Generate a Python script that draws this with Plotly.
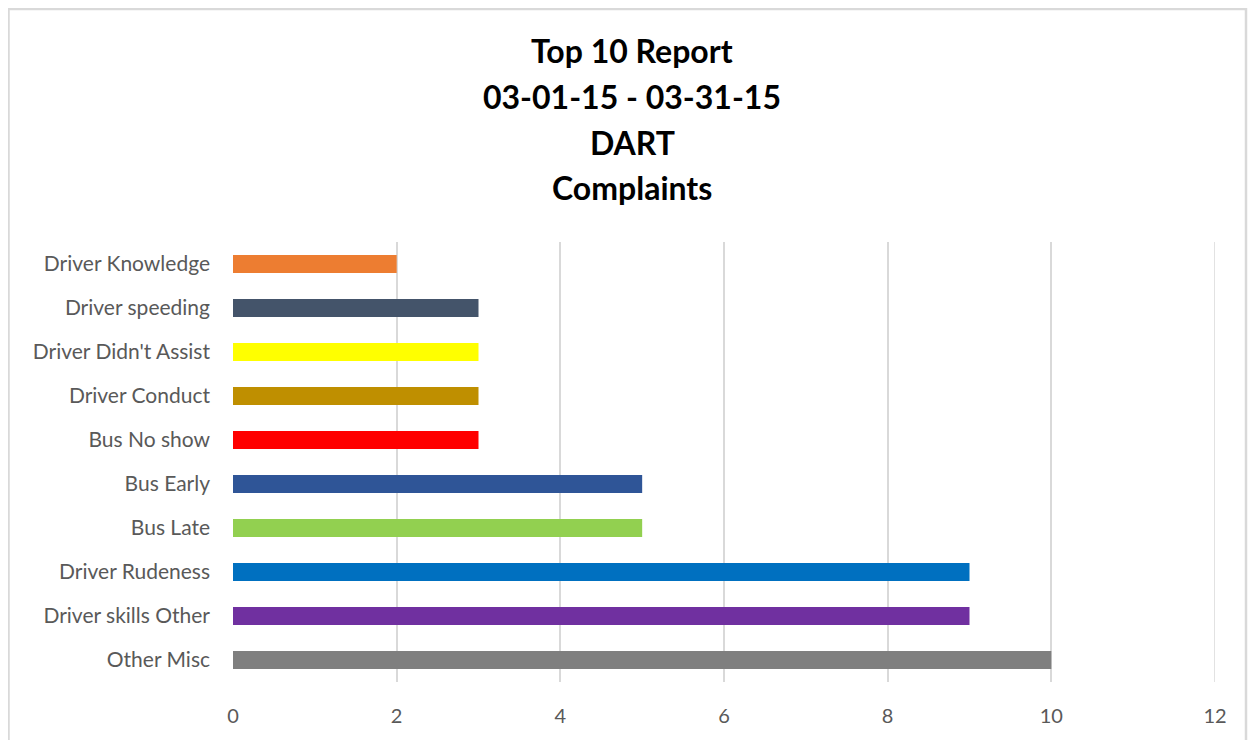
import plotly.graph_objects as go

categories = ["Other Misc", "Driver skills Other", "Driver Rudeness", "Bus Late", "Bus Early",
              "Bus No show", "Driver Conduct", "Driver Didn't Assist", "Driver speeding", "Driver Knowledge"]
values = [10, 9, 9, 5, 5, 3, 3, 3, 3, 2]
colors = ["#7F7F7F", "#7030A0", "#0070C0", "#92D050", "#2F5597",
          "#FF0000", "#BF8F00", "#FFFF00", "#44546A", "#ED7D31"]
title_lines = ["Top 10 Report", "03-01-15 - 03-31-15", "DART", "Complaints"]
x_ticks = [0, 2, 4, 6, 8, 10, 12]

# page body has an 8px margin; figure coordinates are offset by it
OFF = 8
W, H = 1248, 732
ml, mr, mt, mb = 233 - OFF, 41, 242 - OFF, 58
pw, ph = W - ml - mr, H - mt - mb

def px(x):
    return (x - OFF - ml) / pw

def py(y):
    return 1 + (mt - (y - OFF)) / ph

fig = go.Figure(go.Bar(
    y=categories, x=values, orientation="h",
    marker=dict(color=colors, line=dict(width=0)),
    width=0.41,
))

font_family = "Lato, Open Sans, sans-serif"

ann = []
line_y = [50, 96, 142, 188]
for t, yy in zip(title_lines, line_y):
    ann.append(dict(text="<b>%s</b>" % t, x=px(632), y=py(yy),
                    xref="paper", yref="paper", showarrow=False, xanchor="center", yanchor="middle",
                    font=dict(family=font_family, size=32, color="#000000")))

shapes = [
    dict(type="rect", xref="paper", yref="paper",
         x0=px(8.5), x1=px(1246), y0=py(9), y1=py(770),
         line=dict(color="#D9D9D9", width=2.5), fillcolor="rgba(0,0,0,0)", layer="below"),
    # last vertical gridline at the right edge of the plot area
    dict(type="line", xref="x", yref="paper", x0=x_ticks[-1], x1=x_ticks[-1], y0=0, y1=1,
         line=dict(color="#D9D9D9", width=1.5), layer="below"),
]

fig.update_layout(
    width=W, height=H,
    margin=dict(l=ml, r=mr, t=mt, b=mb, pad=0),
    paper_bgcolor="white", plot_bgcolor="white",
    showlegend=False,
    annotations=ann,
    xaxis=dict(range=[0, 12], tickvals=x_ticks, showgrid=True, gridcolor="#D9D9D9", gridwidth=1.5,
               zeroline=False, showline=False, ticks="",
               tickfont=dict(family=font_family, size=20, color="#595959"), ticklabelstandoff=20),
    yaxis=dict(range=[-0.5, 9.5], showgrid=False, zeroline=False, showline=False, ticks="",
               tickfont=dict(family=font_family, size=21, color="#595959"), ticklabelstandoff=22),
    shapes=shapes,
)

fig.write_html("out.html", post_script="document.body.style.overflow='hidden';")
